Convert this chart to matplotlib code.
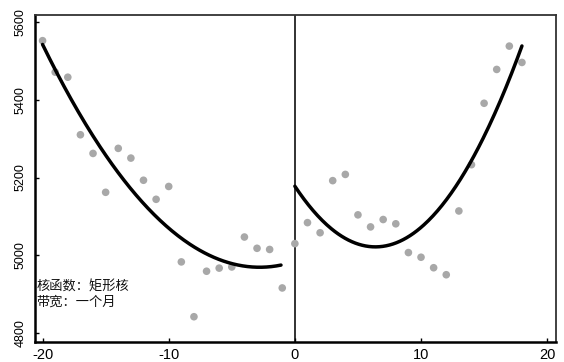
import numpy as np
import matplotlib
matplotlib.use("Agg")
import matplotlib.pyplot as plt

plt.rcParams['font.family'] = ['Liberation Sans', 'Noto Sans CJK SC', 'DejaVu Sans']

# Data
left_x = [-20, -19, -18, -17, -16, -15, -14, -13, -12, -11, -10,
          -9, -8, -7, -6, -5, -4, -3, -2, -1]
left_y = [5552, 5471, 5458, 5310, 5262, 5162, 5275, 5250, 5193, 5144, 5177,
          4983, 4842, 4959, 4967, 4970, 5047, 5018, 5015, 4916]
right_x = [0, 1, 2, 3, 4, 5, 6, 7, 8, 9, 10, 11, 12, 13, 14, 15, 16, 17, 18]
right_y = [5030, 5084, 5058, 5192, 5208, 5104, 5073, 5092, 5081, 5007, 4995,
           4968, 4950, 5114, 5233, 5391, 5478, 5538, 5496]

xticks = [-20, -10, 0, 10, 20]
yticks = [4800, 5000, 5200, 5400, 5600]
note = "核函数：矩形核\n带宽：一个月"

fig = plt.figure(figsize=(5.64, 3.62), dpi=100)
ax = fig.add_axes([35/564, 1-342/362, (556-35)/564, (342-15)/362])

ax.scatter(left_x + right_x, left_y + right_y, s=30, color='#a8a8a8',
           edgecolors='none', zorder=2)

# quadratic fits on each side of the cutoff
for xs, ys, x0, x1 in [(left_x, left_y, -20, -1.1), (right_x, right_y, 0, 18)]:
    c = np.polyfit(xs, ys, 2)
    gx = np.linspace(x0, x1, 200)
    ax.plot(gx, np.polyval(c, gx), color='black', lw=2.5, zorder=3,
            solid_capstyle='round')

ax.axvline(0, color='#222222', lw=1.3, zorder=1)

ax.set_xlim(-20.6, 20.7)
ax.set_ylim(4777, 5618)
ax.set_xticks(xticks)
ax.set_yticks(yticks)
ax.set_xticklabels([str(v) for v in xticks])
ax.set_yticklabels([str(v) for v in yticks], rotation=90, va='center')
ax.tick_params(direction='in', length=3, width=1)
ax.tick_params(axis='x', labelsize=10.5, pad=4)
ax.tick_params(axis='y', labelsize=9, pad=6)

for s in ['left', 'bottom']:
    ax.spines[s].set_linewidth(1.8)
    ax.spines[s].set_color('black')
for s in ['top', 'right']:
    ax.spines[s].set_linewidth(1.3)
    ax.spines[s].set_color('#333333')

ax.text(-20.5, 4935, note, family=['Noto Sans CJK SC', 'DejaVu Sans'],
        fontsize=9.5, fontweight='medium', ha='left', va='top',
        linespacing=1.15, color='#111111')

fig.savefig("out.png", dpi=100)
